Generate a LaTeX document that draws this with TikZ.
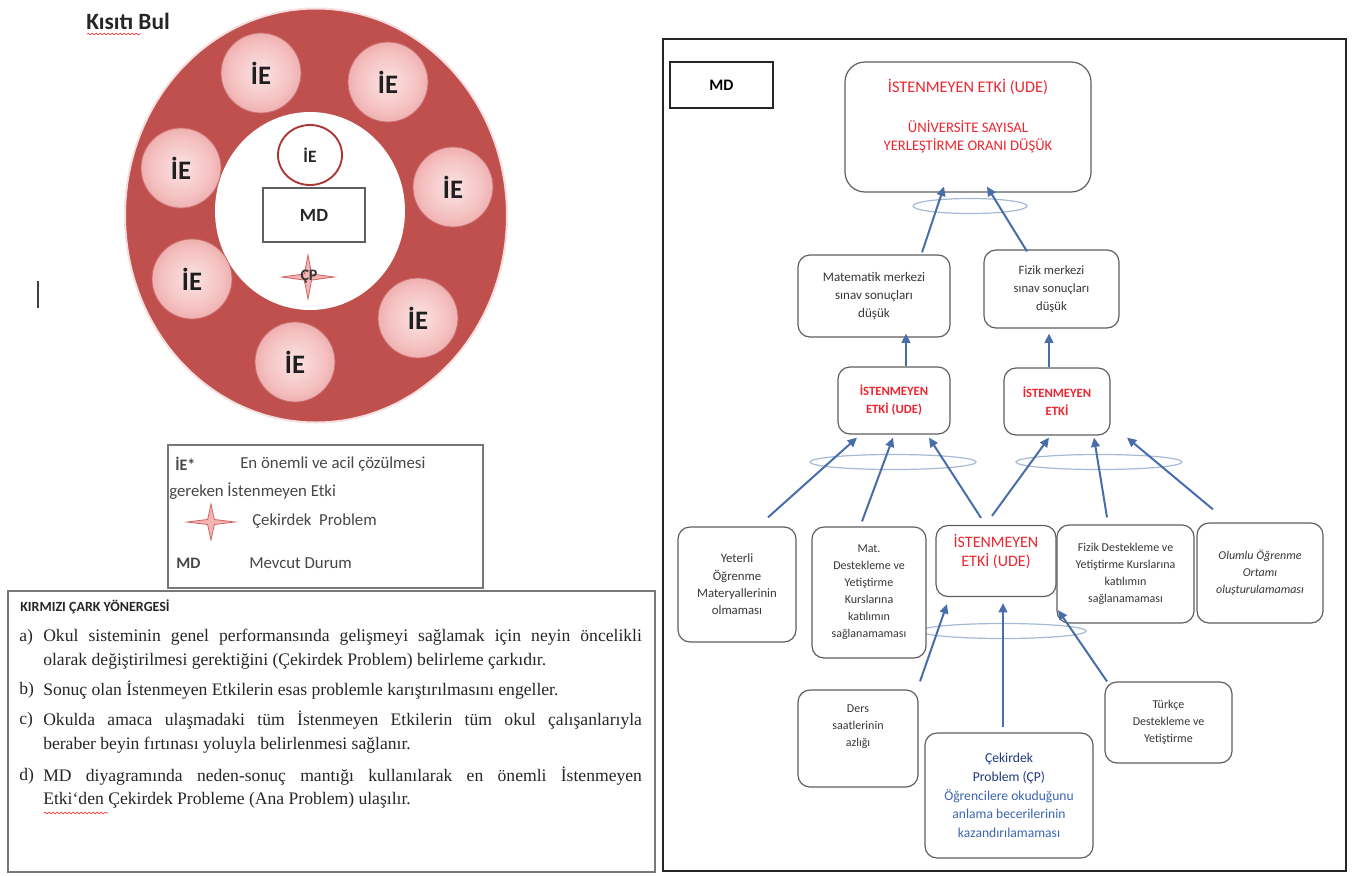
\documentclass[tikz,border=0pt]{standalone}
\usepackage{fontspec}
\setmainfont{Liberation Serif}
\newfontfamily\calibri{Carlito}
\usetikzlibrary{shapes.geometric,arrows.meta,calc,decorations.pathmorphing}

\definecolor{wheelred}{RGB}{192,80,77}
\definecolor{rimpink}{RGB}{246,222,222}
\definecolor{pinkin}{RGB}{252,228,228}
\definecolor{pinkmid}{RGB}{244,190,190}
\definecolor{pinkout}{RGB}{226,136,136}
\definecolor{iedge}{RGB}{200,110,110}
\definecolor{ierim}{RGB}{170,55,55}
\definecolor{starfill}{RGB}{245,180,180}
\definecolor{starline}{RGB}{210,100,100}
\definecolor{arrowblue}{RGB}{72,110,170}
\definecolor{ringblue}{RGB}{165,185,212}
\definecolor{udered}{RGB}{236,38,48}
\definecolor{cpdark}{RGB}{32,56,125}
\definecolor{cpblue}{RGB}{60,100,180}
\definecolor{boxline}{RGB}{95,95,95}
\definecolor{txtgray}{RGB}{55,55,55}
\definecolor{legline}{RGB}{120,120,120}

% one pixel of the layout grid
\def\pxu{*0.75pt}

\pgfdeclareradialshading{iepink}{\pgfpoint{0bp}{0bp}}{%
  color(0bp)=(pinkin); color(20bp)=(pinkmid); color(38bp)=(pinkout); color(50bp)=(pinkout)}

\tikzset{
  ie/.style={circle, minimum size=80\pxu, inner sep=0pt, shading=iepink,
    draw=iedge, line width=0.6pt,
    font=\calibri\bfseries\fontsize{20}{24}\selectfont, text=black!88},
  rbox/.style={draw=boxline, line width=0.9pt, rounded corners=9pt, fill=white,
    inner sep=0pt, align=center, font=\calibri\fontsize{9}{12.75}\selectfont, text=txtgray},
  udebox/.style={rbox, text=udered},
  ring/.style={ellipse, draw=ringblue, line width=0.9pt, inner sep=0pt, minimum height=15\pxu},
  cause/.style={draw=arrowblue, line width=1.5pt, -{Triangle[length=7pt,width=6.5pt]}},
  itext/.style={inner sep=0pt, anchor=west, font=\fontsize{13.2}{15}\selectfont, text=black!85},
  ltext/.style={inner sep=0pt, anchor=west, font=\calibri\fontsize{12.6}{14}\selectfont, text=black!72},
  pics/fourstar/.style 2 args={code={
    \path[fill=starfill, draw=starline, line width=0.6pt]
      (#1,0) -- (0.14*#1,0.14*#2) -- (0,#2) -- (-0.14*#1,0.14*#2) -- (-#1,0)
      -- (-0.14*#1,-0.14*#2) -- (0,-#2) -- (0.14*#1,-0.14*#2) -- cycle;}},
}

\begin{document}
\begin{tikzpicture}[x=0.75pt,y=-0.75pt]
\useasboundingbox (0,0) rectangle (1352,875);

% ---------------- title and the red wheel ----------------
\node[inner sep=0pt, anchor=west, font=\calibri\bfseries\fontsize{17.5}{20}\selectfont, text=black!85] (title) at (86,21) {Kısıtı Bul};
\draw[red!80, line width=0.5pt, decorate, decoration={snake, amplitude=0.6pt, segment length=3pt}] (87,34) -- (141,34);

\draw[line width=1.4pt, black!75] (38,281) -- (38,308);

\node[ellipse, fill=wheelred, draw=rimpink, line width=1.5pt, inner sep=0pt,
      minimum width=382\pxu, minimum height=414\pxu] (wheel) at (316,215.5) {};
\node[ellipse, fill=white, inner sep=0pt, minimum width=190\pxu, minimum height=198\pxu] (hub) at (310,211) {};

\node[ie] (ie1) at (261,73) {İE};
\node[ie] (ie2) at (388,82) {İE};
\node[ie] (ie3) at (181,168) {İE};
\node[ie] (ie4) at (453,187) {İE};
\node[ie] (ie5) at (192,279) {İE};
\node[ie] (ie6) at (418,318) {İE};
\node[ie] (ie7) at (295,362) {İE};

\node[ellipse, draw=ierim, line width=1.4pt, fill=white, inner sep=0pt,
      minimum width=64\pxu, minimum height=60\pxu,
      font=\calibri\bfseries\fontsize{13}{15}\selectfont, text=black!85] (iecore) at (310,155) {İE};
\node[draw=boxline, line width=0.9pt, fill=white, inner sep=0pt,
      minimum width=102\pxu, minimum height=54\pxu,
      font=\calibri\bfseries\fontsize{14}{16}\selectfont, text=black!85] (mdhub) at (314,215) {MD};
\pic at (308,277) {fourstar={26}{22}};
\node[inner sep=0pt, font=\calibri\bfseries\fontsize{12}{14}\selectfont, text=black!80] (cphub) at (309,277) {ÇP};

% ---------------- legend ----------------
\node[draw=legline, line width=0.9pt, fill=white, inner sep=0pt,
      minimum width=315\pxu, minimum height=143\pxu] (legend) at (325.5,516.5) {};
\node[ltext, font=\calibri\bfseries\fontsize{12}{14}\selectfont] (lgie) at (175,464) {İE*};
\node[ltext] (lgie1) at (240,464) {En önemli ve acil çözülmesi};
\node[ltext] (lgie2) at (169,491) {gereken İstenmeyen Etki};
\pic at (211,522) {fourstar={24}{18}};
\node[ltext] (lgcp) at (252,521) {Çekirdek\ \ Problem};
\node[ltext, font=\calibri\bfseries\fontsize{12}{14}\selectfont] (lgmd) at (176,563) {MD};
\node[ltext] (lgmd1) at (249,563) {Mevcut Durum};

% ---------------- guideline text ----------------
\node[draw=legline, line width=0.9pt, inner sep=0pt,
      minimum width=647\pxu, minimum height=281\pxu] (guide) at (331.5,731.5) {};
\node[itext, font=\calibri\bfseries\fontsize{10.5}{12}\selectfont] (ghead) at (20,607) {KIRMIZI ÇARK YÖNERGESİ};
\node[itext] (ga) at (19,637) {a)};
\node[itext] (ga1) at (43,637) {\makebox[449pt][s]{Okul sisteminin genel performansında gelişmeyi sağlamak için neyin öncelikli}};
\node[itext] (ga2) at (43,661) {olarak değiştirilmesi gerektiğini (Çekirdek Problem) belirleme çarkıdır.};
\node[itext] (gb) at (19,690) {b)};
\node[itext] (gb1) at (43,690) {Sonuç olan İstenmeyen Etkilerin esas problemle karıştırılmasını engeller.};
\node[itext] (gc) at (19,720) {c)};
\node[itext] (gc1) at (43,720) {\makebox[449pt][s]{Okulda amaca ulaşmadaki tüm İstenmeyen Etkilerin tüm okul çalışanlarıyla}};
\node[itext] (gc2) at (43,745) {beraber beyin fırtınası yoluyla belirlenmesi sağlanır.};
\node[itext] (gd) at (19,776) {d)};
\node[itext] (gd1) at (43,776) {\makebox[449pt][s]{MD diyagramında neden-sonuç mantığı kullanılarak en önemli İstenmeyen}};
\node[itext] (gd2) at (43,800) {Etki`den Çekirdek Probleme (Ana Problem) ulaşılır.};
\draw[red!80, line width=0.5pt, decorate, decoration={snake, amplitude=0.6pt, segment length=3pt}] (44,813) -- (108,813);

% ---------------- current-state (MD) diagram ----------------
\draw[line width=2.2pt, black!85] (663,39) rectangle (1346,871);
\node[draw=black!85, line width=1.5pt, inner sep=0pt, minimum width=103\pxu, minimum height=46\pxu,
      font=\calibri\bfseries\fontsize{12}{14}\selectfont] (mdtag) at (721.5,85) {MD};

% grouping rings (drawn first, the arrows run over them)
\node[ring, minimum width=114\pxu] (ring1) at (970,206) {};
\node[ring, minimum width=166\pxu] (ring2) at (893,462) {};
\node[ring, minimum width=166\pxu] (ring3) at (1099,462) {};
\node[ring, minimum width=166\pxu] (ring4) at (1003,631) {};

% boxes
\node[rbox, rounded corners=15pt, minimum width=246\pxu, minimum height=130\pxu] (top) at (968,127) {};
\node[inner sep=0pt, font=\calibri\fontsize{12.2}{14}\selectfont, text=udered] (toph) at (968,87) {İSTENMEYEN ETKİ (UDE)};
\node[inner sep=0pt, font=\calibri\fontsize{11}{13}\selectfont, text=udered] (topl1) at (968,127) {ÜNİVERSİTE SAYISAL};
\node[inner sep=0pt, font=\calibri\fontsize{11}{13}\selectfont, text=udered] (topl2) at (968,146) {YERLEŞTİRME ORANI DÜŞÜK};

\node[rbox, minimum width=152\pxu, minimum height=82\pxu, font=\calibri\fontsize{9.8}{13.5}\selectfont] (mat) at (874,296)
  {Matematik merkezi\\sınav sonuçları\\düşük};
\node[rbox, minimum width=135\pxu, minimum height=78\pxu, font=\calibri\fontsize{9.5}{13.5}\selectfont] (fiz) at (1051.5,289)
  {Fizik merkezi\\sınav sonuçları\\düşük};

\node[udebox, minimum width=112\pxu, minimum height=67\pxu, font=\calibri\bfseries\fontsize{9.5}{13.5}\selectfont] (ude1) at (894,400.5)
  {İSTENMEYEN\\ETKİ (UDE)};
\node[udebox, minimum width=106\pxu, minimum height=67\pxu, font=\calibri\bfseries\fontsize{9.5}{13.5}\selectfont] (ude2) at (1057,401.5)
  {İSTENMEYEN\\ETKİ};

\node[rbox, minimum width=118\pxu, minimum height=115\pxu, font=\calibri\fontsize{9.6}{13}\selectfont] (yet) at (737,584.5)
  {Yeterli\\Öğrenme\\Materyallerinin\\olmaması};
\node[rbox, minimum width=114\pxu, minimum height=131\pxu] (matd) at (869,592.5)
  {Mat.\\Destekleme ve\\Yetiştirme\\Kurslarına\\katılımın\\sağlanamaması};
\node[udebox, minimum width=120\pxu, minimum height=71\pxu, font=\calibri\fontsize{12}{14}\selectfont] (ude3) at (996,561)
  {İSTENMEYEN\\ETKİ (UDE)\\[2pt]};
\node[rbox, minimum width=137\pxu, minimum height=98\pxu] (fizd) at (1125.5,574)
  {Fizik Destekleme ve\\Yetiştirme Kurslarına\\katılımın\\sağlanamaması};
\node[rbox, minimum width=126\pxu, minimum height=100\pxu, font=\calibri\itshape\fontsize{9}{12.75}\selectfont] (olu) at (1260,573)
  {Olumlu Öğrenme\\Ortamı\\oluşturulamaması};

\node[rbox, minimum width=120\pxu, minimum height=97\pxu] (ders) at (858,738.5)
  {Ders\\saatlerinin\\azlığı\\[6pt]};
\node[rbox, minimum width=168\pxu, minimum height=125\pxu, font=\calibri\fontsize{10.2}{14}\selectfont, text=cpblue] (cek) at (1009,795.5)
  {\textcolor{cpdark}{Çekirdek}\\\textcolor{cpdark}{Problem (ÇP)}\\Öğrencilere okuduğunu\\anlama becerilerinin\\kazandırılamaması};
\node[rbox, minimum width=127\pxu, minimum height=81\pxu] (tur) at (1168.5,722.5)
  {Türkçe\\Destekleme ve\\Yetiştirme};

% cause-and-effect arrows
\draw[cause] ($(mat.north)+(48,-2)$) -- ($(top.south)+(-24,-6)$);
\draw[cause] ($(fiz.north)+(-24.5,2)$) -- ($(top.south)+(19,-6)$);
\draw[cause] ($(ude1.north)+(12,0)$) -- ($(mat.south)+(32,-4)$);
\draw[cause] ($(ude2.north)+(-8,0)$) -- ($(fiz.south)+(-2.5,5)$);

\draw[cause] ($(yet.north)+(31,-9)$) -- ($(ude1.south)+(-37,3)$);
\draw[cause] ($(matd.north)+(-7,-5)$) -- ($(ude1.south)+(-1,3)$);
\draw[cause] ($(ude3.north)+(-15,-7)$) -- ($(ude1.south)+(35,3)$);
\draw[cause] ($(ude3.north)+(-4,-9)$) -- ($(ude2.south)+(-8,2)$);
\draw[cause] ($(fizd.north)+(-18.5,-7)$) -- ($(ude2.south)+(37,2)$);
\draw[cause] ($(olu.north)+(-47,-13)$) -- ($(ude2.south)+(70,2)$);

\draw[cause] ($(ders.north)+(62,-8)$) -- ($(ude3.south)+(-49,7)$);
\draw[cause] ($(cek.north)+(-6,-5)$) -- ($(ude3.south)+(7,6)$);
\draw[cause] ($(tur.north)+(-61.5,0)$) -- ($(ude3.south)+(62,13)$);
\end{tikzpicture}
\end{document}
